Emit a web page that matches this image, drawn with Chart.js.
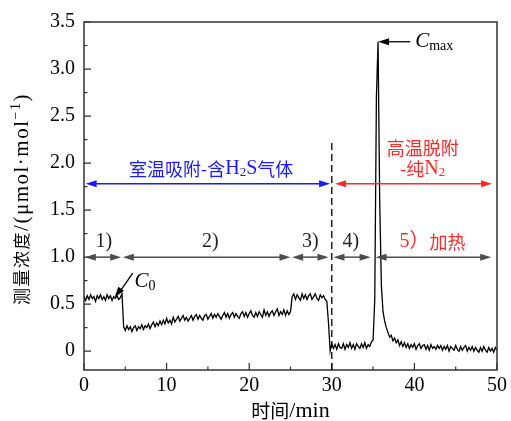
<!DOCTYPE html>
<html>
<head>
<meta charset="utf-8">
<script src="https://cdn.jsdelivr.net/npm/chart.js@4.4.0/dist/chart.umd.min.js"></script>
<style>
  html, body { margin: 0; padding: 0; background: #fff; }
  #wrap { width: 511px; height: 421px; }
</style>
</head>
<body>
<div id="wrap"><canvas id="c"></canvas></div>
<script>
// sampling step of the trace (min)
const step = 0.2;

// 1) baseline before adsorption, t = 0 .. 4.6
const segA = [0.58,0.54,0.59,0.55,0.60,0.56,0.58,0.53,0.59,0.56,0.60,0.55,0.58,0.54,0.60,0.56,0.59,0.54,0.58,0.56,0.59,0.55,0.57,0.61];
// 2) adsorption at room temperature, t = 4.8 .. 25.0
const segB = [
  0.26,0.22,0.27,0.23,0.26,0.21,0.25,0.27,0.22,0.26,
  0.24,0.28,0.23,0.27,0.25,0.29,0.24,0.28,0.31,0.26,
  0.30,0.27,0.32,0.28,0.33,0.29,0.35,0.30,0.33,0.29,
  0.36,0.31,0.34,0.37,0.32,0.35,0.38,0.33,0.36,0.32,
  0.35,0.38,0.33,0.37,0.39,0.34,0.38,0.35,0.33,0.38,
  0.39,0.34,0.37,0.40,0.35,0.39,0.36,0.40,0.37,0.34,
  0.38,0.41,0.36,0.40,0.35,0.39,0.41,0.36,0.40,0.37,
  0.35,0.40,0.42,0.37,0.41,0.36,0.40,0.43,0.38,0.36,
  0.41,0.37,0.42,0.39,0.36,0.44,0.38,0.42,0.37,0.41,
  0.43,0.38,0.42,0.45,0.38,0.42,0.39,0.44,0.38,0.43,
  0.39,0.42
];
// 3) bypass check, t = 25.2 .. 29.4
const segC = [0.58,0.61,0.55,0.60,0.57,0.54,0.61,0.56,0.60,0.55,0.59,0.61,0.55,0.58,0.61,0.56,0.54,0.60,0.57,0.59,0.55,0.53];
// 4) N2 purge, t = 29.6 .. 35.0
const segD = [
  0.30,0.00,0.08,0.03,0.07,0.02,0.08,0.04,0.03,0.08,
  0.02,0.07,0.04,0.09,0.03,0.07,0.02,0.08,0.05,0.03,
  0.08,0.04,0.09,0.03,0.07,0.05,0.10,0.12
];
// 5) heating / desorption, t = 35.2 .. 50.0
const segE = [
  0.55,2.70,3.29,1.60,0.70,0.42,0.32,0.25,0.20,0.15,
  0.17,0.11,0.14,0.09,0.12,0.06,0.10,0.05,0.09,0.04,
  0.08,0.03,0.07,0.04,0.08,0.02,0.06,0.08,0.03,0.06,
  0.07,0.02,0.06,0.01,0.07,0.03,0.05,0.02,0.06,0.03,
  0.06,0.01,0.05,0.02,0.06,0.00,0.05,0.03,0.01,0.06,
  0.02,0.00,0.05,0.01,0.04,0.06,0.00,0.04,0.01,0.05,
  0.00,0.04,0.01,-0.01,0.04,0.00,0.05,0.01,-0.01,0.04,
  0.00,0.03,-0.01,0.04,0.01
];

const xTicks = [0, 10, 20, 30, 40, 50];
const yTicks = [0, 0.5, 1.0, 1.5, 2.0, 2.5, 3.0, 3.5];

const conc = [].concat(segA, segB, segC, segD, segE);
const points = conc.map((v, i) => ({ x: +(i * step).toFixed(1), y: v }));

const SERIF = '"Liberation Serif", "DejaVu Serif", "Noto Sans CJK SC", serif';
const CJK = '"Noto Sans CJK SC", "Liberation Serif", sans-serif';
const GRAY = '#4d4d4d', BLUE = '#1a1aff', RED = '#ff2a2a';

// draw a sequence of text pieces (for subscripts), centred on cx
function drawRuns(ctx, runs, cx, y, color, align, spacing) {
  ctx.save();
  ctx.fillStyle = color;
  ctx.textBaseline = 'middle';
  ctx.textAlign = 'left';
  if (spacing) ctx.letterSpacing = spacing;
  let w = 0;
  runs.forEach(r => { ctx.font = r.font; r.w = ctx.measureText(r.t).width; w += r.w; });
  let x = align === 'left' ? cx : cx - w / 2;
  runs.forEach(r => { ctx.font = r.font; ctx.fillText(r.t, x, y + (r.dy || 0)); x += r.w; });
  ctx.restore();
}

function head(ctx, x, y, dir, color) {
  ctx.fillStyle = color;
  ctx.beginPath();
  ctx.moveTo(x, y);
  ctx.lineTo(x - dir * 11, y - 3.5);
  ctx.lineTo(x - dir * 11, y + 3.5);
  ctx.closePath();
  ctx.fill();
}

function dblArrow(ctx, x1, x2, y, color) {
  ctx.strokeStyle = color;
  ctx.lineWidth = 1.5;
  ctx.beginPath(); ctx.moveTo(x1 + 4, y); ctx.lineTo(x2 - 4, y); ctx.stroke();
  head(ctx, x1, y, -1, color);
  head(ctx, x2, y, 1, color);
}

const decor = {
  id: 'decor',
  afterDatasetsDraw(chart) {
    const { ctx, chartArea: a, scales: { x, y } } = chart;
    const px = v => x.getPixelForValue(v), py = v => y.getPixelForValue(v);
    ctx.save();

    // frame
    ctx.strokeStyle = '#333';
    ctx.lineWidth = 1.5;
    ctx.strokeRect(a.left, a.top, a.right - a.left, a.bottom - a.top);

    // inward ticks
    ctx.lineWidth = 1.2;
    ctx.beginPath();
    for (let v = 0; v <= 50.001; v += 5) {
      const len = (Math.round(v) % 10 === 0) ? 7 : 3.5;
      ctx.moveTo(px(v), a.bottom); ctx.lineTo(px(v), a.bottom - len);
    }
    for (let v = 0; v <= 3.5001; v += 0.25) {
      const len = (Math.round(v * 4) % 2 === 0) ? 7 : 3.5;
      ctx.moveTo(a.left, py(v)); ctx.lineTo(a.left + len, py(v));
    }
    ctx.stroke();

    // dashed separator at t = 30
    ctx.strokeStyle = '#000';
    ctx.lineWidth = 1.3;
    ctx.setLineDash([7, 4]);
    ctx.beginPath(); ctx.moveTo(px(30), a.bottom); ctx.lineTo(px(30), py(2.22)); ctx.stroke();
    ctx.setLineDash([]);

    // stage arrows at y = 1.0
    const yA = py(1.0);
    dblArrow(ctx, px(0.1), px(4.5), yA, GRAY);
    dblArrow(ctx, px(4.7), px(25.0), yA, GRAY);
    dblArrow(ctx, px(25.2), px(29.6), yA, GRAY);
    dblArrow(ctx, px(30.2), px(34.7), yA, GRAY);
    dblArrow(ctx, px(35.3), px(49.3), yA, GRAY);

    const lf = '20px ' + SERIF;
    const yL = py(1.16);
    drawRuns(ctx, [{ t: '1)', font: lf }], px(2.4), yL, '#222');
    drawRuns(ctx, [{ t: '2)', font: lf }], px(15.3), yL, '#222');
    drawRuns(ctx, [{ t: '3)', font: lf }], px(27.4), yL, '#222');
    drawRuns(ctx, [{ t: '4)', font: lf }], px(32.3), yL, '#222');
    drawRuns(ctx, [{ t: '5）', font: lf }, { t: '加热', font: '18px ' + CJK }], px(42.2), yL, RED);

    // blue / red phase arrows
    const yP = py(1.78);
    dblArrow(ctx, px(0.2), px(29.8), yP, BLUE);
    dblArrow(ctx, px(30.4), px(49.4), yP, RED);
    const cf = '18px ' + CJK;
    drawRuns(ctx, [
      { t: '室温吸附-含', font: cf },
      { t: 'H', font: '20px ' + SERIF },
      { t: '2', font: '13px ' + SERIF, dy: 4 },
      { t: 'S', font: '20px ' + SERIF },
      { t: '气体', font: cf }
    ], px(15.4), py(1.94), BLUE);
    drawRuns(ctx, [{ t: '高温脱附', font: cf }], px(41.0), py(2.16), RED);
    drawRuns(ctx, [
      { t: '-纯', font: cf },
      { t: 'N', font: '20px ' + SERIF },
      { t: '2', font: '13px ' + SERIF, dy: 4 }
    ], px(41.0), py(1.94), RED);

    // C0 annotation
    ctx.strokeStyle = '#000'; ctx.lineWidth = 1.3;
    const c0x = px(3.7), c0y = py(0.57);
    const s0x = px(5.9), s0y = py(0.83);
    ctx.beginPath(); ctx.moveTo(s0x, s0y); ctx.lineTo(c0x + 6, c0y - 7); ctx.stroke();
    ctx.save();
    ctx.translate(c0x, c0y);
    ctx.rotate(Math.atan2(c0y - s0y, c0x - s0x));
    head(ctx, 0, 0, 1, '#000');
    ctx.restore();
    drawRuns(ctx, [
      { t: 'C', font: 'italic 21px ' + SERIF },
      { t: '0', font: '14px ' + SERIF, dy: 5 }
    ], px(6.1), py(0.74), '#000', 'left');

    // Cmax annotation
    const cmy = py(3.29);
    ctx.strokeStyle = '#000';
    ctx.beginPath(); ctx.moveTo(px(39.5), cmy); ctx.lineTo(px(35.6) + 4, cmy); ctx.stroke();
    head(ctx, px(35.6), cmy, -1, '#000');
    drawRuns(ctx, [
      { t: 'C', font: 'italic 21px ' + SERIF },
      { t: 'max', font: '14px ' + SERIF, dy: 5 }
    ], px(40.1), cmy, '#000', 'left');

    ctx.restore();
  },
  afterDraw(chart) {
    const { ctx, chartArea: a } = chart;
    // axis titles
    drawRuns(ctx, [
      { t: '时间', font: '19px ' + CJK },
      { t: '/min', font: '22px ' + SERIF }
    ], (a.left + a.right) / 2, 411, '#000');
    ctx.save();
    ctx.translate(22, 199);
    ctx.rotate(-Math.PI / 2);
    drawRuns(ctx, [
      { t: '测量浓度', font: '17px ' + CJK },
      { t: '/(μmol·mol', font: '21px ' + SERIF },
      { t: '−1', font: '14px ' + SERIF, dy: -6 },
      { t: ')', font: '21px ' + SERIF }
    ], 0, 0, '#000', null, '1.5px');
    ctx.restore();
  }
};

new Chart(document.getElementById('c'), {
  type: 'line',
  data: {
    datasets: [{
      data: points,
      borderColor: '#000',
      borderWidth: 1.3,
      pointRadius: 0,
      tension: 0
    }]
  },
  options: {
    responsive: true,
    maintainAspectRatio: false,
    animation: false,
    devicePixelRatio: 1,
    layout: { padding: { top: 22, right: 11, left: 0, bottom: 0 } },
    plugins: { legend: { display: false }, tooltip: { enabled: false } },
    scales: {
      x: {
        type: 'linear', min: 0, max: 50,
        grid: { display: false, drawTicks: false },
        border: { display: false },
        afterBuildTicks: s => { s.ticks = xTicks.map(v => ({ value: v })); },
        ticks: { color: '#000', padding: 4, font: { family: SERIF, size: 20 } },
        afterFit: s => { s.height = 51; }
      },
      y: {
        type: 'linear', min: -0.2, max: 3.5,
        grid: { display: false, drawTicks: false },
        border: { display: false },
        afterBuildTicks: s => { s.ticks = yTicks.map(v => ({ value: v })); },
        ticks: {
          color: '#000', padding: 9, font: { family: SERIF, size: 20 },
          callback: v => v === 0 ? '0' : v.toFixed(1)
        },
        afterFit: s => { s.width = 84; }
      }
    }
  },
  plugins: [decor]
});
</script>
</body>
</html>
